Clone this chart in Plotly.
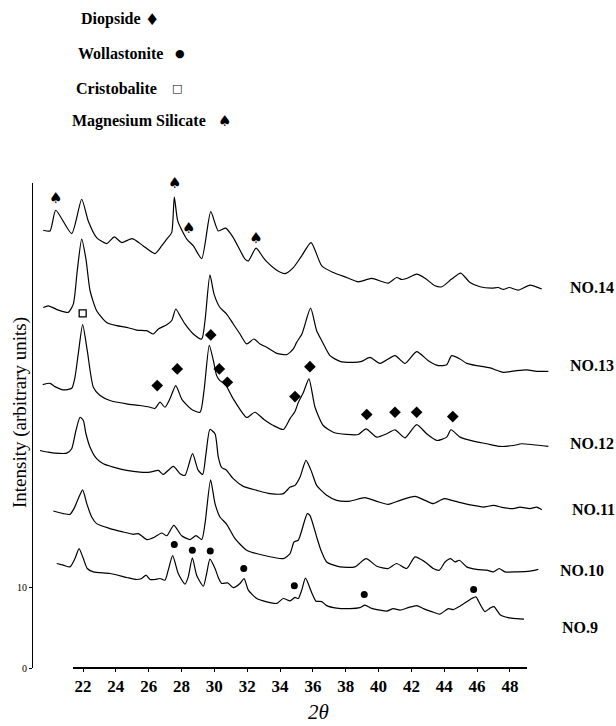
import plotly.graph_objects as go

# ---------------- data (2theta in degrees, intensity in arbitrary units, offset per sample) -------------
no14_x = [19.58, 19.99, 20.34, 21.31, 21.92, 22.32, 22.83, 23.44, 23.91, 24.36, 25.00, 25.67, 26.38, 26.79,
          27.10, 27.40, 27.56, 27.77, 28.32, 28.72, 29.23, 29.78, 30.24, 30.69, 31.15, 31.87, 32.07, 32.54,
          32.98, 33.19, 33.80, 34.30, 34.81, 35.32, 35.89, 36.54, 37.24, 38.06, 38.77, 39.58, 40.59, 41.10,
          41.41, 41.71, 42.32, 42.83, 43.44, 43.85, 44.45, 45.00, 45.57, 46.18, 46.89, 47.29, 47.60, 47.96,
          48.51, 49.22, 49.94]
no14_y = [54.16, 54.07, 56.63, 53.74, 57.99, 55.31, 53.25, 52.51, 53.33, 52.63, 53.12, 52.22, 51.27, 52.22,
          53.05, 53.86, 58.27, 55.31, 53.05, 52.22, 50.65, 56.46, 54.07, 54.41, 53.25, 50.58, 50.37, 51.94,
          50.78, 50.28, 49.22, 48.80, 49.54, 50.99, 52.63, 49.75, 48.93, 48.31, 47.78, 48.19, 47.62, 48.31,
          48.06, 48.19, 48.73, 48.23, 47.28, 47.16, 48.11, 48.85, 47.69, 47.16, 47.00, 47.07, 46.83, 47.07,
          46.75, 47.37, 46.88]

no13_x = [19.58, 19.89, 20.50, 21.10, 21.41, 21.65, 21.92, 22.18, 22.43, 22.83, 23.44, 24.05, 24.66, 25.27,
          25.88, 26.28, 26.59, 27.10, 27.40, 27.65, 27.91, 28.21, 28.72, 29.23, 29.43, 29.73, 29.98, 30.34,
          30.75, 31.15, 31.56, 31.97, 32.41, 32.78, 33.19, 33.80, 34.41, 34.81, 35.01, 35.34, 35.86, 36.23,
          36.54, 37.04, 37.65, 38.46, 38.97, 39.48, 40.09, 41.00, 41.61, 42.32, 43.03, 43.64, 44.15, 44.45,
          44.96, 45.37, 45.98, 46.79, 47.60, 48.41, 49.02, 49.63, 50.34]
no13_y = [44.60, 44.81, 44.28, 43.99, 45.02, 49.14, 53.05, 50.58, 46.67, 44.20, 42.75, 42.35, 42.14, 41.81,
          41.73, 41.32, 41.94, 42.47, 42.96, 44.41, 43.58, 42.56, 41.32, 40.70, 42.96, 48.64, 46.26, 44.60,
          43.79, 42.56, 41.32, 40.09, 40.70, 40.09, 39.67, 38.93, 38.77, 39.47, 40.28, 41.36, 44.51, 41.73,
          40.49, 38.64, 37.94, 37.81, 37.94, 38.43, 37.69, 38.64, 37.69, 39.14, 38.02, 37.41, 37.53, 38.64,
          38.23, 37.69, 37.41, 37.12, 36.58, 36.79, 36.88, 36.70, 36.70]

no12_x = [19.55, 19.99, 20.29, 20.80, 21.31, 21.51, 21.71, 21.98, 22.26, 22.63, 23.04, 23.64, 24.66, 25.47,
          26.08, 26.38, 26.69, 26.99, 27.30, 27.65, 28.03, 28.62, 29.13, 29.37, 29.69, 29.94, 30.14, 30.34,
          30.65, 31.15, 31.97, 32.47, 33.02, 33.59, 34.20, 34.61, 34.91, 35.11, 35.42, 35.76, 36.13, 36.63,
          37.24, 38.06, 38.77, 39.24, 39.89, 40.50, 41.00, 41.61, 42.32, 42.93, 43.54, 44.15, 44.41, 44.96,
          45.77, 46.59, 47.40, 48.21, 48.72, 49.42, 50.34]
no12_y = [35.06, 35.22, 34.81, 34.41, 34.60, 35.96, 38.85, 42.47, 39.26, 34.73, 33.70, 33.09, 32.68, 32.47,
          32.26, 32.10, 32.88, 32.26, 33.33, 34.94, 33.21, 31.98, 31.64, 34.32, 39.91, 38.02, 36.17, 35.56,
          35.15, 33.30, 30.99, 31.64, 30.74, 30.00, 29.51, 30.86, 31.73, 32.84, 34.07, 35.77, 32.26, 30.00,
          29.17, 28.89, 28.89, 29.59, 28.56, 28.98, 29.47, 28.48, 30.12, 28.98, 28.15, 28.56, 29.47, 28.56,
          28.06, 27.74, 27.41, 27.53, 27.74, 27.62, 27.41]

no11_x = [19.38, 19.89, 20.29, 21.01, 21.31, 21.57, 21.82, 22.02, 22.18, 22.43, 22.83, 23.24, 23.85, 24.66,
          25.47, 26.08, 26.59, 26.89, 27.50, 27.91, 28.21, 28.67, 29.02, 29.29, 29.49, 29.73, 30.04, 30.24,
          30.45, 30.71, 31.15, 31.76, 32.58, 33.39, 34.20, 34.61, 34.91, 35.22, 35.58, 35.93, 36.23, 36.84,
          37.45, 38.26, 39.17, 39.89, 40.59, 41.31, 42.22, 42.83, 43.33, 43.99, 44.45, 44.86, 45.77, 46.38,
          46.99, 47.60, 48.21, 48.61, 49.22, 49.63, 49.94]
no11_y = [26.91, 26.70, 26.58, 26.58, 27.12, 29.38, 31.02, 30.62, 28.98, 27.32, 25.89, 25.27, 24.85, 24.44,
          24.23, 24.23, 24.44, 23.95, 24.94, 24.04, 23.83, 26.51, 24.44, 23.95, 26.51, 29.51, 28.98, 26.09,
          24.78, 24.53, 23.42, 22.47, 21.98, 21.57, 21.57, 22.38, 22.59, 23.62, 25.68, 24.23, 22.59, 21.36,
          20.74, 20.65, 21.07, 20.62, 20.25, 20.74, 21.23, 20.74, 20.33, 20.95, 20.74, 20.53, 20.12, 19.91,
          20.12, 19.84, 19.72, 19.91, 19.72, 19.91, 19.59]

no10_x = [20.19, 20.80, 21.21, 21.45, 21.71, 21.98, 22.23, 22.53, 22.83, 23.64, 24.45, 25.06, 25.37, 25.88,
          26.38, 26.79, 27.10, 27.53, 28.01, 28.52, 28.88, 29.23, 29.43, 29.77, 30.04, 30.34, 30.75, 31.26,
          31.97, 32.98, 34.20, 34.61, 34.85, 35.11, 35.66, 35.82, 36.23, 36.49, 36.84, 37.65, 38.56, 39.24,
          39.89, 40.59, 41.10, 41.71, 42.22, 42.83, 43.33, 43.70, 44.05, 44.39, 44.66, 44.92, 45.37, 45.98,
          46.59, 46.99, 47.35, 47.70, 48.41, 49.22, 49.73]
no10_y = [19.42, 19.10, 19.01, 19.72, 20.95, 22.04, 20.33, 18.68, 17.86, 17.25, 16.83, 16.54, 16.63, 15.89,
          16.21, 16.70, 16.36, 17.65, 16.36, 15.89, 16.38, 15.89, 17.86, 23.27, 20.33, 18.68, 17.78, 16.01,
          14.57, 13.95, 13.54, 14.16, 15.59, 15.80, 19.10, 18.89, 16.21, 14.57, 13.12, 12.51, 12.51, 13.54,
          12.59, 12.31, 12.93, 12.31, 13.74, 13.12, 12.31, 12.10, 13.12, 13.54, 13.12, 13.33, 12.51, 12.19,
          12.10, 11.89, 12.31, 11.89, 11.89, 11.98, 12.19]

no9_x = [20.40, 20.80, 21.21, 21.51, 21.76, 22.02, 22.26, 22.63, 23.64, 24.66, 25.27, 25.57, 25.84, 26.08,
         26.38, 26.69, 26.99, 27.19, 27.46, 27.80, 28.21, 28.41, 28.66, 28.92, 29.33, 29.53, 29.73, 30.04,
         30.24, 30.45, 30.81, 31.15, 31.56, 31.81, 32.07, 32.58, 33.19, 33.80, 34.20, 34.61, 34.91, 35.11,
         35.32, 35.55, 35.93, 36.19, 36.54, 36.84, 37.45, 38.26, 38.87, 39.17, 39.58, 40.09, 40.50, 40.90,
         41.31, 41.81, 42.32, 42.73, 43.24, 43.74, 44.25, 44.55, 44.96, 45.37, 45.67, 45.93, 46.18, 46.48,
         46.79, 47.03, 47.40, 47.90, 48.41, 48.86]
no9_y = [12.93, 12.72, 12.51, 13.54, 14.78, 13.54, 12.31, 11.89, 11.69, 11.20, 10.95, 11.07, 11.48, 10.95,
         10.95, 11.07, 10.86, 12.10, 13.91, 11.69, 10.37, 11.27, 13.62, 11.48, 10.12, 11.69, 13.46, 12.31,
         11.20, 10.46, 10.53, 9.94, 10.46, 11.05, 9.63, 8.60, 8.19, 7.99, 8.60, 8.31, 8.73, 8.60,
         9.63, 11.11, 9.32, 8.27, 8.21, 7.72, 7.41, 7.35, 7.47, 7.78, 7.37, 7.16, 7.04, 7.35,
         7.16, 7.47, 7.72, 7.35, 6.98, 6.67, 7.35, 7.22, 7.65, 8.19, 8.60, 8.80, 7.90, 6.98,
         7.41, 7.59, 6.60, 6.23, 6.11, 6.05]

sample_names = ["NO.14", "NO.13", "NO.12", "NO.11", "NO.10", "NO.9"]

# phase markers
diopside_x = [26.52, 27.74, 29.78, 30.30, 30.79, 34.91, 35.82, 39.28, 41.00, 42.32, 44.52]
diopside_y = [34.94, 37.00, 41.20, 37.00, 35.35, 33.58, 37.28, 31.36, 31.64, 31.64, 31.11]
wollastonite_x = [27.56, 28.66, 29.75, 31.79, 34.87, 39.13, 45.79]
wollastonite_y = [15.27, 14.57, 14.48, 12.31, 10.16, 9.10, 9.72]
cristobalite_x = [21.98]
cristobalite_y = [43.86]
mgsilicate_x = [20.34, 27.58, 28.44, 32.54]
mgsilicate_y = [58.0, 59.9, 54.3, 53.05]

x_ticks = [22, 24, 26, 28, 30, 32, 34, 36, 38, 40, 42, 44, 46, 48]
y_ticks = [0, 10]

# ---------------- figure -------------
SERIF = "Liberation Serif, Times New Roman, serif"
fig = go.Figure()

curves = [(no14_x, no14_y), (no13_x, no13_y), (no12_x, no12_y),
          (no11_x, no11_y), (no10_x, no10_y), (no9_x, no9_y)]
for (xs, ys), name in zip(curves, sample_names):
    fig.add_trace(go.Scatter(x=xs, y=ys, mode="lines", name=name,
                             line=dict(color="black", width=1.2, shape="spline", smoothing=0.6),
                             showlegend=False, hoverinfo="skip"))

fig.add_trace(go.Scatter(x=diopside_x, y=diopside_y, mode="markers", cliponaxis=False,
                         marker=dict(symbol="diamond", size=9, color="black"), showlegend=False))
fig.add_trace(go.Scatter(x=wollastonite_x, y=wollastonite_y, mode="markers", cliponaxis=False,
                         marker=dict(symbol="circle", size=7, color="black"), showlegend=False))
fig.add_trace(go.Scatter(x=cristobalite_x, y=cristobalite_y, mode="markers", cliponaxis=False,
                         marker=dict(symbol="square-open", size=7, color="black",
                                     line=dict(width=1.3, color="black")), showlegend=False))
fig.add_trace(go.Scatter(x=mgsilicate_x, y=mgsilicate_y, mode="text", cliponaxis=False,
                         text=["♠"] * len(mgsilicate_x), textposition="middle center",
                         textfont=dict(family="DejaVu Sans", size=15, color="black"), showlegend=False))

L, R, T, B = 33, 64, 183, 58
W = 616 - L - R
H = 726 - T - B
px_per_deg = 16.42
x0_deg = 22 - (83 - L) / px_per_deg
x1_deg = x0_deg + W / px_per_deg
ax_l, ax_r = 73, 527

fig.update_layout(
    width=616, height=726,
    margin=dict(l=L, r=R, t=T, b=B),
    paper_bgcolor="white", plot_bgcolor="rgba(0,0,0,0)",
    showlegend=False,
    xaxis=dict(range=[x0_deg, x1_deg], domain=[0, 1], anchor="y",
               showline=False, showgrid=False, zeroline=False,
               ticks="outside", ticklen=3, tickcolor="black", tickwidth=1,
               tickvals=x_ticks, ticktext=[f"<b>{t}</b>" for t in x_ticks],
               tickfont=dict(family=SERIF, size=17, color="black")),
    yaxis=dict(range=[0, 60], domain=[0, 1], showline=True, linecolor="black", linewidth=1.2,
               showgrid=False, zeroline=False, ticks="outside", ticklen=3, tickcolor="black",
               tickvals=y_ticks, ticktext=[str(t) for t in y_ticks],
               tickfont=dict(family=SERIF, size=10, color="black")),
    # x-axis baseline, shorter than the plotting area as in the original figure
    shapes=[dict(type="line", xref="paper", yref="paper",
                 x0=(ax_l - L) / W, x1=(ax_r - L) / W, y0=0, y1=0,
                 line=dict(color="black", width=2))],
)

def px2paper(px, py):
    return (px - L) / W, (668 - py) / H

ann = []
legend_rows = [("Diopside", "♦", 79, 152, 19, 16),
               ("Wollastonite", "●", 76, 180, 53, 11),
               ("Cristobalite", "□", 74, 177, 88, 11),
               ("Magnesium Silicate", "♠", 70, 224, 121, 15)]
for label, sym, lx, sx, ly, ssize in legend_rows:
    ax_, ay_ = px2paper(lx, ly)
    ann.append(dict(x=ax_, y=ay_, xref="paper", yref="paper", text=f"<b>{label}</b>", showarrow=False,
                    xanchor="left", yanchor="middle", font=dict(family=SERIF, size=16, color="black")))
    sx_, sy_ = px2paper(sx, ly)
    ann.append(dict(x=sx_, y=sy_, xref="paper", yref="paper", text=sym, showarrow=False,
                    xanchor="center", yanchor="middle", font=dict(family="DejaVu Sans", size=ssize, color="black")))

label_pos = [(568, 287), (568, 365), (568, 443), (570, 509), (558, 570), (560, 627)]
for name, (lx, ly) in zip(sample_names, label_pos):
    ax_, ay_ = px2paper(lx, ly)
    ann.append(dict(x=ax_, y=ay_, xref="paper", yref="paper", text=f"<b>{name}</b>", showarrow=False,
                    xanchor="left", yanchor="middle", font=dict(family=SERIF, size=16, color="black")))

tx, ty = px2paper(20, 413)
ann.append(dict(x=tx, y=ty, xref="paper", yref="paper", text="Intensity (arbitrary units)", textangle=-90,
                showarrow=False, xanchor="center", yanchor="middle",
                font=dict(family=SERIF, size=19, color="black")))
tx, ty = px2paper(318, 712)
ann.append(dict(x=tx, y=ty, xref="paper", yref="paper", text="<i>2θ</i>", showarrow=False,
                xanchor="center", yanchor="middle", font=dict(family=SERIF, size=21, color="black")))
fig.update_layout(annotations=ann)

fig.write_html("out.html", config={"displayModeBar": False},
               post_script="document.body.style.margin='0';document.body.style.overflow='hidden';")
